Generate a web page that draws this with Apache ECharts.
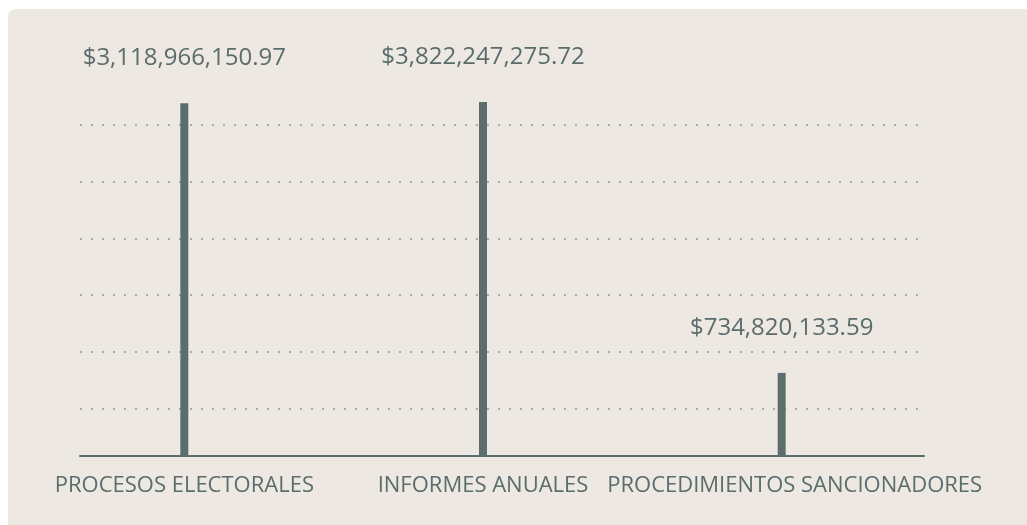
<!DOCTYPE html>
<html>
<head>
<meta charset="utf-8">
<script src="https://cdn.jsdelivr.net/npm/echarts@6/dist/echarts.min.js"></script>
<style>
  html, body { margin: 0; padding: 0; background: #ffffff; overflow: hidden; }
  #fondo { position: absolute; left: 8px; top: 9px; width: 1100px; height: 600px; background: #ede9e2; border-radius: 8px; }
  #chart { position: absolute; left: 0; top: 0; width: 1027px; height: 525px; }
</style>
</head>
<body>
<div id="fondo"></div>
<div id="chart"></div>
<script>
// datos del reporte
const categories = ['PROCESOS ELECTORALES', 'INFORMES ANUALES', 'PROCEDIMIENTOS SANCIONADORES']
const montos = [3118966150.97, 3822247275.72, 734820133.59]

// la escala corta arriba (la barra de informes queda recortada como en el original)
const yMax = 3.13e9
// lineas punteadas de fondo, desfasadas respecto a la base
const guideMin = 87e6
const guideMax = 3197e6

const textColor = '#5b6c6c'
const barColor = '#5b6e6d'
const dotColor = '#a9aca6'

const chart = echarts.init(document.getElementById('chart'), null, {renderer: 'canvas'})

const formatMoney = function (v) {
  return '$' + v.toLocaleString('en-US', {minimumFractionDigits: 2, maximumFractionDigits: 2})
}

// la ultima etiqueta va un poco corrida a la derecha, como en el original
const axisData = categories.map(function (c, i) {
  if (i === categories.length - 1) {
    return {value: c, textStyle: {padding: [0, 0, 0, 26]}}
  }
  return c
})

chart.setOption({
  animation: false,
  textStyle: {fontFamily: 'Open Sans'},
  grid: [
    // marco: linea base y guias
    {left: 80, right: 103, top: 102, bottom: 69},
    // barras
    {left: 35, right: 96, top: 102, bottom: 69}
  ],
  xAxis: [{
    type: 'value',
    gridIndex: 0,
    min: 0,
    max: 1,
    axisLine: {show: true, onZero: false, lineStyle: {color: barColor, width: 2}},
    axisTick: {show: false},
    axisLabel: {show: false},
    splitLine: {show: false}
  }, {
    type: 'category',
    gridIndex: 1,
    data: axisData,
    axisLine: {show: false},
    axisTick: {show: false},
    axisLabel: {
      interval: 0,
      color: textColor,
      fontSize: 22,
      margin: 19,
      fontFamily: 'Open Sans'
    }
  }],
  yAxis: [{
    type: 'value',
    gridIndex: 0,
    min: guideMin,
    max: guideMax,
    axisLine: {show: false},
    axisTick: {show: false},
    axisLabel: {show: false},
    splitLine: {
      show: true,
      showMinLine: false,
      showMaxLine: false,
      lineStyle: {color: dotColor, width: 2, type: [2, 9]}
    }
  }, {
    type: 'value',
    gridIndex: 1,
    min: 0,
    max: yMax,
    show: false,
    splitLine: {show: false}
  }],
  series: [{
    type: 'bar',
    xAxisIndex: 1,
    yAxisIndex: 1,
    data: montos,
    barWidth: 8,
    clip: true,
    silent: true,
    itemStyle: {color: barColor},
    label: {
      show: true,
      position: 'top',
      distance: 33,
      color: textColor,
      fontSize: 24,
      fontFamily: 'Open Sans',
      formatter: function (p) {
        return formatMoney(p.value)
      }
    }
  }]
})
</script>
</body>
</html>
